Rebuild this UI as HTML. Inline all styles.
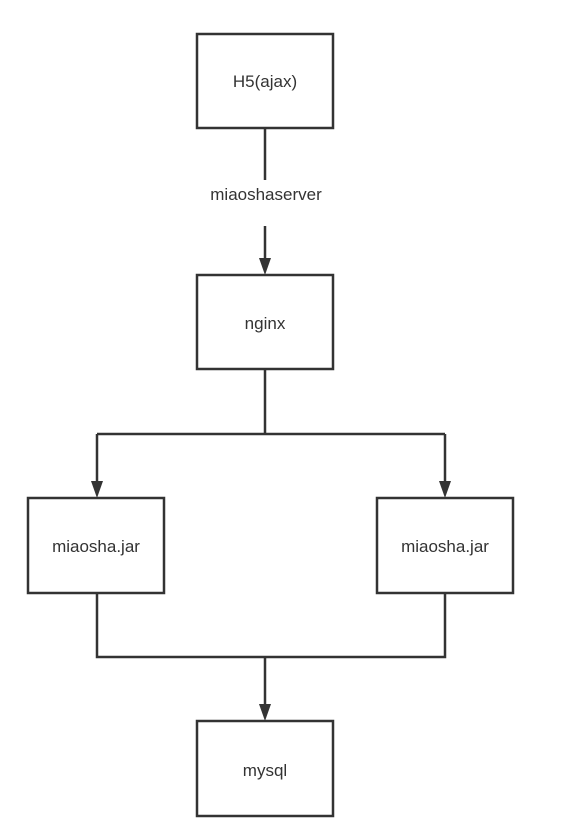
<!DOCTYPE html>
<html><head><style>body{margin:0;background:#fff}</style></head><body>
<svg width="576" height="828" xmlns="http://www.w3.org/2000/svg" style="display:block">
<g fill="#fff" stroke="#333" stroke-width="2.5">
<rect x="197" y="34" width="136" height="94"/>
<rect x="197" y="275" width="136" height="94"/>
<rect x="28" y="498" width="136" height="95"/>
<rect x="377" y="498" width="136" height="95"/>
<rect x="197" y="721" width="136" height="95"/>
</g>
<g fill="none" stroke="#333" stroke-width="2.5">
<path d="M265 128V180"/>
<path d="M265 226V262"/>
<path d="M265 369V434M97 434H445M97 434V485M445 434V485"/>
<path d="M97 593V657H445V593M265 657V708"/>
</g>
<g fill="#333">
<path d="M259 258L271 258L265 275Z"/>
<path d="M91 481L103 481L97 498Z"/>
<path d="M439 481L451 481L445 498Z"/>
<path d="M259 704L271 704L265 721Z"/>
</g>
<g font-family="Liberation Sans, sans-serif" font-size="17" fill="#333" text-anchor="middle">
<text x="265" y="87">H5(ajax)</text>
<text x="266" y="200">miaoshaserver</text>
<text x="265" y="329">nginx</text>
<text x="96" y="552">miaosha.jar</text>
<text x="445" y="552">miaosha.jar</text>
<text x="265" y="776">mysql</text>
</g>
</svg>
</body></html>
